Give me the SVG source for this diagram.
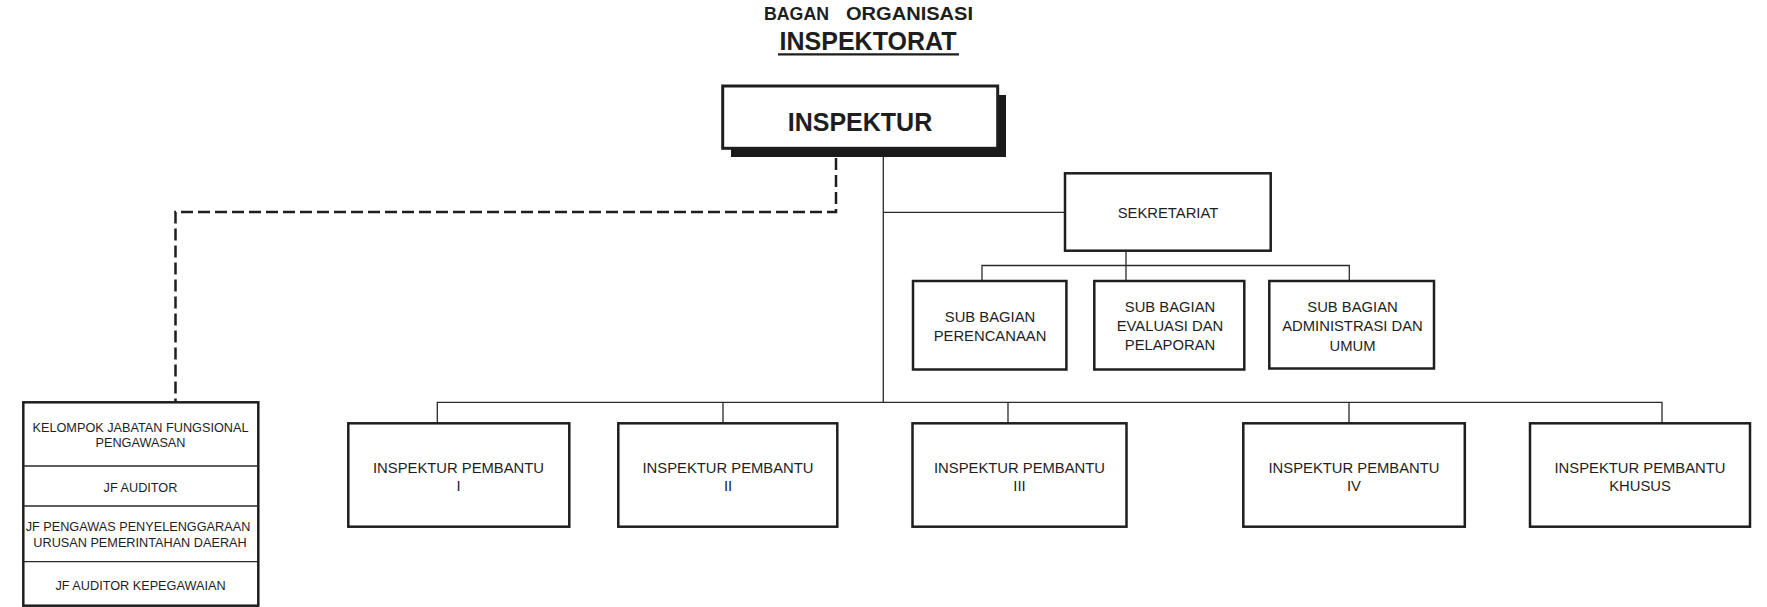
<svg xmlns="http://www.w3.org/2000/svg" width="1767" height="607" viewBox="0 0 1767 607">
<style>
text{font-family:"Liberation Sans",Arial,sans-serif;fill:#1e1e1e}
.t{font-size:14.8px;text-anchor:middle}
.s{font-size:12.7px;text-anchor:middle}
.b{font-weight:bold}
.box{fill:#fff;stroke:#1e1e1e;stroke-width:2.5}
.ln{fill:none;stroke:#2a2a2a;stroke-width:1.3}
.dash{fill:none;stroke:#1e1e1e;stroke-width:2.5;stroke-dasharray:12 5}
</style>
<rect width="1767" height="607" fill="#fff"/>
<g id="title">
<text class="b" font-size="18.5" y="19.6"><tspan x="764" textLength="65" lengthAdjust="spacingAndGlyphs">BAGAN</tspan><tspan x="846" textLength="127" lengthAdjust="spacingAndGlyphs">ORGANISASI</tspan></text>
<text class="b" font-size="25" x="868" y="50" text-anchor="middle">INSPEKTORAT</text>
<line x1="778" y1="54.3" x2="959" y2="54.3" stroke="#1e1e1e" stroke-width="2.2"/>
</g>
<g id="connectors">
<path class="dash" d="M836,158 V212 H175.5 V402"/>
<path class="ln" d="M883.3,149 V402 M883.3,212.3 H1065 M437.3,423 V402.3 H1662 V423 M723,402.3 V423 M1008,402.3 V423 M1349,402.3 V423"/>
<path class="ln" d="M1126,251 V281 M982,281 V265.5 H1349.3 V281"/>
</g>
<g id="inspektur">
<rect x="731" y="95" width="275" height="62" fill="#1a1a1a"/>
<rect x="722.7" y="86" width="275" height="62.3" fill="#fff" stroke="#1e1e1e" stroke-width="3"/>
<text class="b" font-size="25" x="860" y="130.5" text-anchor="middle">INSPEKTUR</text>
</g>
<g id="sekretariat">
<rect class="box" x="1065" y="173.3" width="205.7" height="77.4"/>
<text class="t" x="1168" y="218.3">SEKRETARIAT</text>
</g>
<g id="sub-perencanaan">
<rect class="box" x="913" y="281" width="153.4" height="88.5"/>
<text class="t" x="990" y="321.7">SUB BAGIAN</text>
<text class="t" x="990" y="340.7">PERENCANAAN</text>
</g>
<g id="sub-evaluasi">
<rect class="box" x="1094.3" y="281" width="150" height="88.5"/>
<text class="t" x="1170" y="311.7">SUB BAGIAN</text>
<text class="t" x="1170" y="331">EVALUASI DAN</text>
<text class="t" x="1170" y="350.3">PELAPORAN</text>
</g>
<g id="sub-administrasi">
<rect class="box" x="1269.3" y="281" width="164.7" height="87.5"/>
<text class="t" x="1352.5" y="311.7">SUB BAGIAN</text>
<text class="t" x="1352.5" y="331.3">ADMINISTRASI DAN</text>
<text class="t" x="1352.5" y="350.7">UMUM</text>
</g>
<g id="jf-group">
<rect class="box" x="23.3" y="402.3" width="235" height="203.4"/>
<path class="ln" d="M23.3,466 H258.3 M23.3,506 H258.3 M23.3,561.7 H258.3" stroke-width="2.2"/>
<text class="s" x="140.5" y="431.7">KELOMPOK JABATAN FUNGSIONAL</text>
<text class="s" x="140.5" y="446.7">PENGAWASAN</text>
<text class="s" x="140.5" y="491.5">JF AUDITOR</text>
<text class="s" x="138" y="531">JF PENGAWAS PENYELENGGARAAN</text>
<text class="s" x="140" y="546.7">URUSAN PEMERINTAHAN DAERAH</text>
<text class="s" x="140.5" y="590">JF AUDITOR KEPEGAWAIAN</text>
</g>
<g id="ip-1">
<rect class="box" x="348.3" y="423.3" width="221" height="103.4"/>
<text class="t" x="458.5" y="472.7">INSPEKTUR PEMBANTU</text>
<text class="t" x="458.5" y="490.5">I</text>
</g>
<g id="ip-2">
<rect class="box" x="618.3" y="423.3" width="219" height="103.4"/>
<text class="t" x="728" y="472.7">INSPEKTUR PEMBANTU</text>
<text class="t" x="728" y="490.5">II</text>
</g>
<g id="ip-3">
<rect class="box" x="912.5" y="423.3" width="214" height="103.4"/>
<text class="t" x="1019.5" y="472.7">INSPEKTUR PEMBANTU</text>
<text class="t" x="1019.5" y="490.5">III</text>
</g>
<g id="ip-4">
<rect class="box" x="1243.3" y="423.3" width="221.5" height="103.4"/>
<text class="t" x="1354" y="472.7">INSPEKTUR PEMBANTU</text>
<text class="t" x="1354" y="490.5">IV</text>
</g>
<g id="ip-khusus">
<rect class="box" x="1530" y="423.3" width="220" height="103.4"/>
<text class="t" x="1640" y="472.7">INSPEKTUR PEMBANTU</text>
<text class="t" x="1640" y="490.5">KHUSUS</text>
</g>
</svg>
